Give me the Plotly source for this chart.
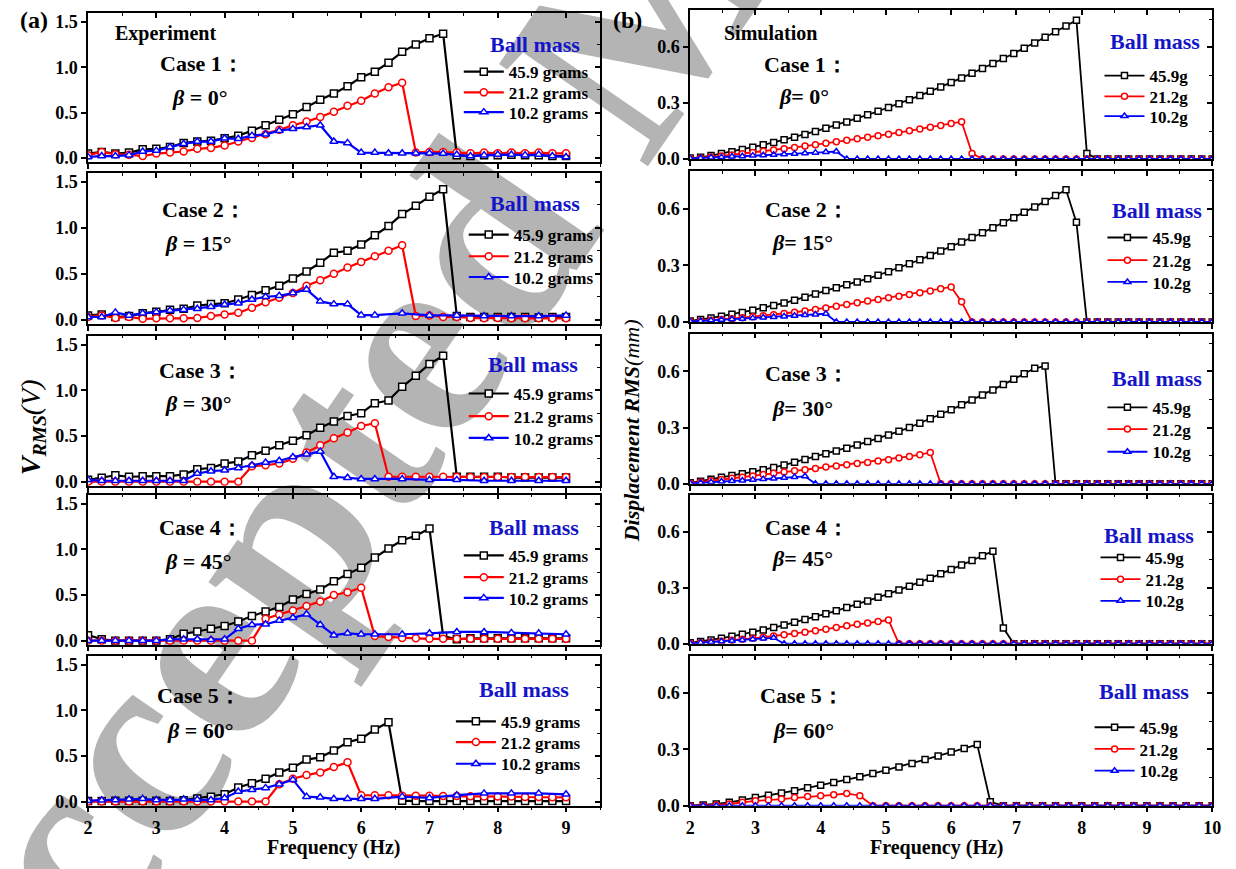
import plotly.graph_objects as go

W, H = 1236, 869
FONT = "Liberation Serif"

# ---------------- data ----------------
EXP_F = [2.0, 2.2, 2.4, 2.6, 2.8, 3.0, 3.2, 3.4, 3.6, 3.8, 4.0, 4.2, 4.4, 4.6, 4.8, 5.0, 5.2, 5.4,
         5.6, 5.8, 6.0, 6.2, 6.4, 6.6, 6.8, 7.0, 7.2, 7.4, 7.6, 7.8, 8.0, 8.2, 8.4, 8.6, 8.8, 9.0]
EXP_F_SPARSE = [2.0, 2.2, 2.4, 2.6, 2.8, 3.0, 3.2, 3.4, 3.6, 3.8, 4.0, 4.2, 4.4, 4.6, 4.8, 5.0, 5.2, 5.4,
                5.6, 5.8, 6.0, 6.2, 6.6, 7.0, 7.4, 7.8, 8.2, 8.6, 9.0]

exp1_459 = [0.047, 0.065, 0.047, 0.058, 0.094, 0.10, 0.12, 0.165, 0.18, 0.19, 0.216, 0.245, 0.30, 0.36,
            0.42, 0.48, 0.56, 0.64, 0.71, 0.79, 0.89, 0.95, 1.05, 1.17, 1.25, 1.32, 1.37, 0.03, 0.02,
            0.03, 0.03, 0.035, 0.03, 0.03, 0.02, 0.02]
exp1_212 = [0.03, 0.065, 0.04, 0.035, 0.02, 0.047, 0.058, 0.07, 0.10, 0.11, 0.137, 0.18, 0.22, 0.26,
            0.31, 0.36, 0.40, 0.45, 0.51, 0.575, 0.63, 0.71, 0.78, 0.83, 0.06, 0.065, 0.065, 0.058,
            0.05, 0.058, 0.05, 0.058, 0.05, 0.058, 0.05, 0.05]
exp1_102 = [0.01, 0.02, 0.02, 0.03, 0.07, 0.08, 0.12, 0.155, 0.18, 0.18, 0.216, 0.21, 0.245, 0.26,
            0.30, 0.32, 0.34, 0.36, 0.18, 0.165, 0.058, 0.058, 0.05, 0.05, 0.05, 0.05, 0.047, 0.036,
            0.02, 0.03, 0.036, 0.036, 0.03, 0.036, 0.02, 0.01]

exp2_459 = [0.047, 0.058, 0.03, 0.04, 0.07, 0.086, 0.11, 0.12, 0.155, 0.17, 0.18, 0.22, 0.27, 0.32,
            0.37, 0.45, 0.525, 0.62, 0.73, 0.75, 0.82, 0.92, 1.02, 1.15, 1.24, 1.34, 1.42, 0.04,
            0.03, 0.03, 0.03, 0.03, 0.03, 0.025, 0.03, 0.03]
exp2_212 = [0.03, 0.047, 0.02, 0.03, 0.01, 0.015, 0.015, 0.015, 0.02, 0.04, 0.058, 0.075, 0.13, 0.19,
            0.24, 0.29, 0.37, 0.43, 0.50, 0.57, 0.63, 0.69, 0.75, 0.81, 0.04, 0.047, 0.03, 0.03,
            0.02, 0.015, 0.02, 0.015, 0.015, 0.015, 0.015, 0.015]
exp2_102 = [0.03, 0.03, 0.08, 0.047, 0.07, 0.083, 0.10, 0.11, 0.12, 0.14, 0.165, 0.18, 0.22, 0.25,
            0.26, 0.29, 0.33, 0.20, 0.17, 0.17, 0.05, 0.05, 0.07, 0.047, 0.047, 0.04, 0.04, 0.04, 0.047]

exp3_459 = [0.02, 0.043, 0.07, 0.054, 0.06, 0.06, 0.06, 0.08, 0.137, 0.15, 0.20, 0.22, 0.29, 0.34,
            0.40, 0.45, 0.51, 0.59, 0.66, 0.72, 0.75, 0.86, 0.89, 1.04, 1.16, 1.29, 1.38, 0.054,
            0.054, 0.054, 0.054, 0.045, 0.045, 0.045, 0.045, 0.045]
exp3_212 = [0.0, 0.0, 0.0, 0.0, 0.0, 0.0, 0.0, 0.0, 0.0, 0.0, 0.0, 0.0, 0.17, 0.18, 0.20, 0.25, 0.32,
            0.40, 0.475, 0.54, 0.61, 0.64, 0.054, 0.054, 0.054, 0.054, 0.054, 0.054, 0.05, 0.05,
            0.05, 0.05, 0.05, 0.05, 0.05, 0.05]
exp3_102 = [0.02, 0.01, 0.01, 0.01, 0.01, 0.01, 0.01, 0.01, 0.09, 0.115, 0.125, 0.15, 0.18, 0.21,
            0.23, 0.27, 0.30, 0.33, 0.054, 0.043, 0.03, 0.03, 0.03, 0.02, 0.02, 0.01, 0.01, 0.01, 0.01]

exp4_459 = [0.06, 0.015, 0.0, 0.0, 0.0, 0.0, 0.015, 0.075, 0.10, 0.13, 0.16, 0.21, 0.27, 0.32, 0.37,
            0.45, 0.51, 0.56, 0.65, 0.73, 0.80, 0.91, 1.01, 1.10, 1.15, 1.23, 0.05, 0.015, 0.025,
            0.025, 0.025, 0.025, 0.025, 0.025, 0.025, 0.025]
exp4_212 = [0.0, 0.0, 0.0, 0.0, 0.0, 0.0, 0.0, 0.0, 0.0, 0.0, 0.0, 0.0, 0.0, 0.24, 0.285, 0.33, 0.38,
            0.43, 0.50, 0.53, 0.58, 0.05, 0.04, 0.03, 0.025, 0.02, 0.02, 0.02, 0.02, 0.02, 0.02,
            0.02, 0.02, 0.02, 0.02, 0.02]
exp4_102 = [0.0, 0.0, 0.0, 0.0, 0.0, 0.0, 0.015, 0.015, 0.015, 0.01, 0.015, 0.13, 0.175, 0.18, 0.22,
            0.25, 0.29, 0.175, 0.06, 0.08, 0.07, 0.07, 0.07, 0.08, 0.095, 0.095, 0.085, 0.08, 0.07]

exp5_459 = [0.005, 0.005, 0.01, 0.01, 0.01, 0.01, 0.005, 0.015, 0.035, 0.054, 0.08, 0.155, 0.20, 0.25,
            0.32, 0.37, 0.46, 0.485, 0.56, 0.65, 0.69, 0.79, 0.87, 0.01, 0.005, 0.005, 0.005, 0.005,
            0.005, 0.005, 0.005, 0.005, 0.005, 0.005, 0.005, 0.005]
exp5_212 = [0.0, 0.0, 0.0, 0.0, 0.0, 0.0, 0.0, 0.0, 0.0, 0.0, 0.0, 0.0, 0.0, 0.0, 0.19, 0.25, 0.29,
            0.32, 0.38, 0.43, 0.07, 0.07, 0.07, 0.065, 0.065, 0.065, 0.06, 0.06, 0.058, 0.055, 0.055,
            0.055, 0.05, 0.05, 0.047, 0.047]
exp5_102 = [0.01, 0.015, 0.018, 0.025, 0.03, 0.018, 0.018, 0.025, 0.022, 0.018, 0.04, 0.11, 0.13, 0.15,
            0.19, 0.24, 0.054, 0.047, 0.03, 0.03, 0.03, 0.03, 0.054, 0.04, 0.07, 0.09, 0.09, 0.09, 0.08]

SIM_F = [2.00, 2.16, 2.32, 2.48, 2.64, 2.80, 2.96, 3.12, 3.28, 3.44, 3.60, 3.76, 3.92, 4.08, 4.24,
         4.40, 4.56, 4.72, 4.88, 5.04, 5.20, 5.36, 5.52, 5.68, 5.84, 6.00, 6.16, 6.32, 6.48, 6.64,
         6.80, 6.96, 7.12, 7.28, 7.44, 7.60, 7.76, 7.92, 8.08, 8.24, 8.40, 8.56, 8.72, 8.88, 9.04,
         9.20, 9.36, 9.52, 9.68, 9.84, 10.00]
SIM5_F = [2.0, 2.2, 2.4, 2.6, 2.8, 3.0, 3.2, 3.4, 3.6, 3.8, 4.0, 4.2, 4.4, 4.6, 4.8, 5.0, 5.2, 5.4,
          5.6, 5.8, 6.0, 6.2, 6.4, 6.6, 6.8, 7.0, 7.2, 7.4, 7.6, 7.8, 8.0, 8.2, 8.4, 8.6, 8.8, 9.0,
          9.2, 9.4, 9.6, 9.8, 10.0]

sim1_459 = [0.005, 0.009, 0.018, 0.029, 0.039, 0.051, 0.063, 0.076, 0.089, 0.103, 0.117, 0.132,
            0.148, 0.165, 0.182, 0.199, 0.218, 0.237, 0.256, 0.276, 0.297, 0.318, 0.340, 0.363,
            0.386, 0.410, 0.435, 0.460, 0.485, 0.512, 0.539, 0.566, 0.594, 0.623, 0.653, 0.683,
            0.714, 0.745, 0.03, 0, 0, 0, 0, 0, 0, 0, 0, 0, 0, 0, 0]
sim1_212 = [0.003, 0.005, 0.011, 0.016, 0.022, 0.028, 0.035, 0.041, 0.048, 0.055, 0.062, 0.069,
            0.076, 0.084, 0.092, 0.100, 0.108, 0.116, 0.125, 0.133, 0.142, 0.151, 0.161, 0.170,
            0.180, 0.190, 0.200, 0.03, 0, 0, 0, 0, 0, 0, 0, 0, 0, 0, 0, 0, 0, 0, 0, 0, 0, 0, 0, 0,
            0, 0, 0]
sim1_102 = [0.003, 0.005, 0.008, 0.010, 0.013, 0.015, 0.018, 0.020, 0.023, 0.025, 0.028, 0.031,
            0.034, 0.037, 0.040, 0, 0, 0, 0, 0, 0, 0, 0, 0, 0, 0, 0, 0, 0, 0, 0, 0, 0, 0, 0, 0, 0,
            0, 0, 0, 0, 0, 0, 0, 0, 0, 0, 0, 0, 0, 0]

sim2_459 = [0.005, 0.012, 0.021, 0.030, 0.040, 0.050, 0.062, 0.075, 0.087, 0.100, 0.115, 0.130,
            0.148, 0.166, 0.181, 0.196, 0.211, 0.229, 0.247, 0.266, 0.287, 0.308, 0.329, 0.352,
            0.375, 0.398, 0.423, 0.447, 0.472, 0.499, 0.525, 0.552, 0.581, 0.609, 0.638, 0.669,
            0.700, 0.527, 0, 0, 0, 0, 0, 0, 0, 0, 0, 0, 0, 0, 0]
sim2_212 = [0.002, 0.005, 0.009, 0.013, 0.017, 0.022, 0.027, 0.032, 0.038, 0.044, 0.051, 0.058,
            0.066, 0.074, 0.083, 0.092, 0.101, 0.110, 0.119, 0.128, 0.136, 0.145, 0.154, 0.164,
            0.175, 0.185, 0.106, 0, 0, 0, 0, 0, 0, 0, 0, 0, 0, 0, 0, 0, 0, 0, 0, 0, 0, 0, 0, 0, 0,
            0, 0]
sim2_102 = [0.002, 0.005, 0.008, 0.011, 0.014, 0.017, 0.020, 0.023, 0.026, 0.029, 0.032, 0.036,
            0.039, 0.043, 0, 0, 0, 0, 0, 0, 0, 0, 0, 0, 0, 0, 0, 0, 0, 0, 0, 0, 0, 0, 0, 0, 0, 0,
            0, 0, 0, 0, 0, 0, 0, 0, 0, 0, 0, 0, 0]

sim3_459 = [0.005, 0.014, 0.024, 0.035, 0.044, 0.054, 0.064, 0.075, 0.087, 0.100, 0.115, 0.130,
            0.145, 0.160, 0.175, 0.190, 0.207, 0.225, 0.242, 0.260, 0.280, 0.300, 0.323, 0.347,
            0.371, 0.395, 0.421, 0.447, 0.473, 0.500, 0.529, 0.558, 0.587, 0.616, 0.628, 0, 0, 0,
            0, 0, 0, 0, 0, 0, 0, 0, 0, 0, 0, 0, 0]
sim3_212 = [0.003, 0.010, 0.016, 0.023, 0.029, 0.035, 0.042, 0.049, 0.056, 0.063, 0.069, 0.075,
            0.082, 0.089, 0.095, 0.101, 0.108, 0.114, 0.121, 0.128, 0.137, 0.146, 0.155, 0.167,
            0, 0, 0, 0, 0, 0, 0, 0, 0, 0, 0, 0, 0, 0, 0, 0, 0, 0, 0, 0, 0, 0, 0, 0, 0, 0, 0]
sim3_102 = [0.002, 0.006, 0.009, 0.012, 0.015, 0.018, 0.021, 0.025, 0.028, 0.032, 0.036, 0.040,
            0, 0, 0, 0, 0, 0, 0, 0, 0, 0, 0, 0, 0, 0, 0, 0, 0, 0, 0, 0, 0, 0, 0, 0, 0, 0, 0, 0, 0,
            0, 0, 0, 0, 0, 0, 0, 0, 0, 0]

sim4_459 = [0.005, 0.012, 0.020, 0.030, 0.040, 0.051, 0.062, 0.074, 0.087, 0.100, 0.115, 0.130,
            0.145, 0.161, 0.177, 0.195, 0.212, 0.230, 0.249, 0.268, 0.288, 0.309, 0.330, 0.352,
            0.375, 0.398, 0.422, 0.447, 0.472, 0.497, 0.084, 0, 0, 0, 0, 0, 0, 0, 0, 0, 0, 0, 0,
            0, 0, 0, 0, 0, 0, 0, 0]
sim4_212 = [0.002, 0.006, 0.010, 0.014, 0.019, 0.024, 0.029, 0.035, 0.041, 0.048, 0.055, 0.062,
            0.070, 0.078, 0.087, 0.096, 0.105, 0.112, 0.119, 0.127, 0, 0, 0, 0, 0, 0, 0, 0, 0, 0,
            0, 0, 0, 0, 0, 0, 0, 0, 0, 0, 0, 0, 0, 0, 0, 0, 0, 0, 0, 0, 0]
sim4_102 = [0.002, 0.006, 0.009, 0.013, 0.016, 0.020, 0.024, 0.028, 0.032, 0, 0, 0, 0, 0, 0, 0, 0,
            0, 0, 0, 0, 0, 0, 0, 0, 0, 0, 0, 0, 0, 0, 0, 0, 0, 0, 0, 0, 0, 0, 0, 0, 0, 0, 0, 0, 0,
            0, 0, 0, 0, 0]

sim5_459 = [0.0, 0.004, 0.009, 0.018, 0.030, 0.044, 0.056, 0.068, 0.080, 0.095, 0.109, 0.124, 0.139,
            0.154, 0.171, 0.189, 0.206, 0.225, 0.246, 0.265, 0.286, 0.305, 0.326, 0.021, 0, 0, 0,
            0, 0, 0, 0, 0, 0, 0, 0, 0, 0, 0, 0, 0, 0]
sim5_212 = [0.0, 0.0, 0.004, 0.009, 0.018, 0.026, 0.030, 0.035, 0.044, 0.049, 0.053, 0.058, 0.065,
            0.053, 0, 0, 0, 0, 0, 0, 0, 0, 0, 0, 0, 0, 0, 0, 0, 0, 0, 0, 0, 0, 0, 0, 0, 0, 0, 0, 0]
sim5_102 = [0, 0, 0, 0, 0, 0, 0, 0, 0, 0, 0, 0, 0, 0, 0, 0, 0, 0, 0, 0, 0, 0, 0, 0, 0, 0, 0, 0, 0, 0,
            0, 0, 0, 0, 0, 0, 0, 0, 0, 0, 0]

EXP_LABELS = ["45.9 grams", "21.2 grams", "10.2 grams"]
SIM_LABELS = ["45.9g", "21.2g", "10.2g"]
CASE_LABELS = ["Case 1：", "Case 2：", "Case 3：", "Case 4：", "Case 5："]
BETA_LABELS = ["0°", "15°", "30°", "45°", "60°"]
WATERMARK = "Accepted Manuscript"

exp_series = [
    [(EXP_F, exp1_459), (EXP_F, exp1_212), (EXP_F, exp1_102)],
    [(EXP_F, exp2_459), (EXP_F, exp2_212), (EXP_F_SPARSE, exp2_102)],
    [(EXP_F, exp3_459), (EXP_F, exp3_212), (EXP_F_SPARSE, exp3_102)],
    [(EXP_F, exp4_459), (EXP_F, exp4_212), (EXP_F_SPARSE, exp4_102)],
    [(EXP_F, exp5_459), (EXP_F, exp5_212), (EXP_F_SPARSE, exp5_102)],
]
sim_series = [
    [(SIM_F, sim1_459), (SIM_F, sim1_212), (SIM_F, sim1_102)],
    [(SIM_F, sim2_459), (SIM_F, sim2_212), (SIM_F, sim2_102)],
    [(SIM_F, sim3_459), (SIM_F, sim3_212), (SIM_F, sim3_102)],
    [(SIM_F, sim4_459), (SIM_F, sim4_212), (SIM_F, sim4_102)],
    [(SIM5_F, sim5_459), (SIM5_F, sim5_212), (SIM5_F, sim5_102)],
]

# ---------------- style / layout ----------------
COLORS = ["#000000", "#FF0000", "#0000FF"]
SYMBOLS = ["square", "circle", "triangle-up"]
BLUE_TXT = "#1414C8"

ROWS_L = [(12, 163), (174, 327), (339, 491), (500, 652), (663, 815)]
ROWS_R = [(9, 160), (172, 325), (337, 489), (500, 651), (663, 815)]
COL_L = (84, 602)
COL_R = (693, 1221)

# text layout (pixel centres)
CASE_L = [(199, 63), (201, 211), (198, 374), (198, 533), (196, 703)]
BETA_L = [(197, 98), (196, 246), (196, 408), (196, 568), (198, 739)]
BALL_L = [(536, 44), (536, 205), (534, 368), (535, 533), (525, 697)]
CASE_R = [(810, 64), (811, 211), (811, 377), (811, 533), (806, 703)]
BETA_R = [(808, 97), (807, 245), (807, 413), (807, 565), (808, 739)]
BALL_R = [(1163, 41), (1165, 212), (1165, 382), (1157, 541), (1152, 699)]
# legend rows: (text start x, [row centre y])
LEG_L = [(511, [72, 93, 113]), (516, [237, 259, 280]), (516, [398, 421, 443]),
         (511, [562, 584, 605]), (503, [730, 751, 773])]
LEG_R = [(1159, [76, 97, 117]), (1162, [240, 263, 285]), (1162, [412, 434, 457]),
         (1155, [564, 586, 608]), (1149, [736, 758, 780])]
LEG_TEXT_OFFSET = 52


def px(x):
    return x / W


def py(y):
    return 1 - y / H


def nm(prefix, n):
    return prefix if n == 1 else f"{prefix}{n}"


fig = go.Figure()
layout = {}
annotations = []

for side in range(2):
    for r in range(5):
        n = side * 5 + r + 1          # main axis index
        no = 10 + n                   # overlay axis index
        rows = ROWS_L if side == 0 else ROWS_R
        col = COL_L if side == 0 else COL_R
        xr = [2, 9.5] if side == 0 else [2, 10]
        yr = [-0.045, 1.6] if side == 0 else [0, 0.8]
        ydt = 0.5 if side == 0 else 0.3
        ymin = 0.25 if side == 0 else 0.15
        top, bot = rows[r]
        xdom = [px(col[0]), px(col[1])]
        ydom = [py(bot), py(top)]
        tickfont = dict(family=FONT, size=18, color="black", weight="bold")
        layout[nm("xaxis", n)] = dict(
            domain=xdom, anchor=nm("y", n), range=xr, dtick=1, tick0=2,
            ticks="outside", ticklen=5, tickwidth=1.5, tickcolor="black",
            minor=dict(dtick=0.5, ticks="outside", ticklen=3, tickwidth=1.2, tickcolor="black"),
            showline=True, linecolor="black", linewidth=1.5, mirror=False,
            showgrid=False, zeroline=False, showticklabels=(r == 4), tickfont=tickfont,
        )
        layout[nm("yaxis", n)] = dict(
            domain=ydom, anchor=nm("x", n), range=yr, dtick=ydt, tick0=0, tickformat=".1f",
            ticks="outside", ticklen=5, tickwidth=1.5, tickcolor="black",
            showline=True, linecolor="black", linewidth=1.5, mirror=False,
            showgrid=False, zeroline=False, tickfont=tickfont,
        )
        layout[nm("xaxis", no)] = dict(
            overlaying=nm("x", n), anchor=nm("y", n), side="top", range=xr, dtick=1, tick0=2,
            ticks="inside", ticklen=5, tickwidth=1.5, tickcolor="black",
            minor=dict(dtick=0.5, ticks="inside", ticklen=3, tickwidth=1.2, tickcolor="black"),
            showline=True, linecolor="black", linewidth=1.5, showgrid=False, zeroline=False,
            showticklabels=False,
        )
        layout[nm("yaxis", no)] = dict(
            overlaying=nm("y", n), anchor=nm("x", n), side="right", range=yr, dtick=ydt, tick0=0,
            ticks="inside", ticklen=5, tickwidth=1.5, tickcolor="black",
            minor=dict(dtick=ymin, ticks="inside", ticklen=3, tickwidth=1.2, tickcolor="black"),
            showline=True, linecolor="black", linewidth=1.5, showgrid=False, zeroline=False,
            showticklabels=False,
        )
        fig.add_trace(go.Scatter(x=[None], y=[None], xaxis=nm("x", no), yaxis=nm("y", no),
                                 showlegend=False, hoverinfo="skip"))

        series = exp_series[r] if side == 0 else sim_series[r]
        labels = EXP_LABELS if side == 0 else SIM_LABELS
        tx, rows_y = (LEG_L if side == 0 else LEG_R)[r]
        for k, (xs, ys) in enumerate(series):
            leg = nm("legend", 3 * (n - 1) + k + 1)
            fig.add_trace(go.Scatter(
                x=xs, y=ys, xaxis=nm("x", n), yaxis=nm("y", n), mode="lines+markers",
                name=labels[k], legend=leg,
                line=dict(color=COLORS[k], width=2.2 if side == 0 else 1.8),
                marker=dict(symbol=SYMBOLS[k], size=7 if side == 0 else 6, color="white",
                            line=dict(color=COLORS[k], width=1.5)),
            ))
            layout[leg] = dict(
                x=px(tx - LEG_TEXT_OFFSET), y=py(rows_y[k]), xanchor="left", yanchor="middle",
                bgcolor="rgba(0,0,0,0)", borderwidth=0, itemwidth=40,
                font=dict(family=FONT, size=17, color="black", weight="bold"),
            )


def ann(text, x, y, size, color="black", **kw):
    d = dict(text=text, x=px(x), y=py(y), xref="paper", yref="paper", showarrow=False,
             font=dict(family=FONT, size=size, color=color), xanchor="center", yanchor="middle")
    d.update(kw)
    annotations.append(d)


ann("<b>(a)</b>", 29, 19, 24)
ann("<b>(b)</b>", 630, 19, 24)
ann("<b>Experiment</b>", 162, 33, 20)
ann("<b>Simulation</b>", 774, 32, 20)

for r in range(5):
    for side in range(2):
        cx, cy = (CASE_L if side == 0 else CASE_R)[r]
        bx, by = (BETA_L if side == 0 else BETA_R)[r]
        mx, my = (BALL_L if side == 0 else BALL_R)[r]
        if side == 0:
            beta_txt = "<b><i>β</i> = " + BETA_LABELS[r] + "</b>"
        else:
            beta_txt = "<b><i>β</i>= " + BETA_LABELS[r] + "</b>"
        ann("<b>" + CASE_LABELS[r] + "</b>", cx, cy, 22)
        ann(beta_txt, bx, by, 22)
        ann("<b>Ball mass</b>", mx, my, 22, color=BLUE_TXT)

ann("<b>Frequency (Hz)</b>", 333, 857, 20)
ann("<b>Frequency (Hz)</b>", 943, 857, 20)
ann("<b><i>V</i></b><sub><b><i>RMS</i></b></sub><i>(V)</i>", 28, 432, 28, textangle=-90)
ann("<b><i>Displacement RMS</i></b><i>(mm)</i>", 634, 435, 22, textangle=-90)

# page watermark (grey, behind the data)
WM_CX, WM_CY = 609, 8
fig.add_shape(
    type="rect", xref="paper", yref="paper",
    x0=px(WM_CX - 2), x1=px(WM_CX + 2), y0=py(WM_CY + 2), y1=py(WM_CY - 2),
    line=dict(width=0), fillcolor="rgba(0,0,0,0)", layer="below",
    label=dict(text="<b>" + WATERMARK + "</b>", textangle=-55.5, textposition="middle center",
               font=dict(family=FONT, size=276, color="#B4B4B4")),
)

fig.update_layout(
    width=W, height=H, margin=dict(l=0, r=0, t=0, b=0), autosize=False,
    paper_bgcolor="white", plot_bgcolor="rgba(0,0,0,0)",
    annotations=annotations, hovermode=False,
    font=dict(family=FONT, color="black"),
    **layout,
)
fig.write_html(
    "out.html",
    config={"displayModeBar": False, "responsive": False},
    post_script=("document.documentElement.style.margin='0';"
                 "document.documentElement.style.overflow='hidden';"
                 "document.body.style.margin='0';"
                 "document.body.style.overflow='hidden';"),
)
